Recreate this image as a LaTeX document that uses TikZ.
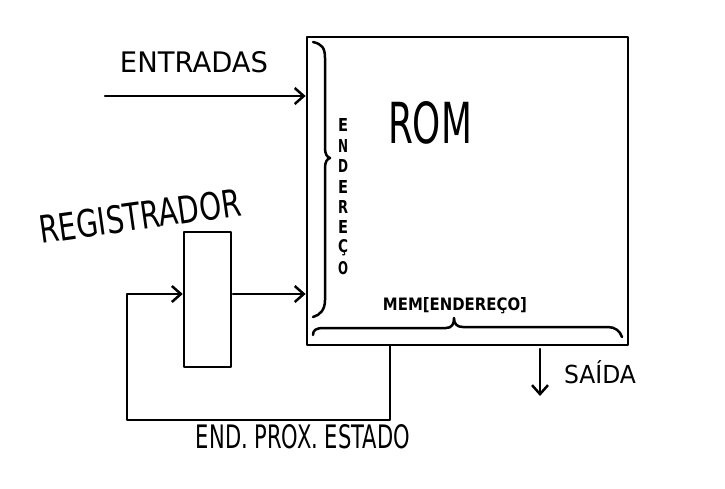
\documentclass[tikz,border=0pt]{standalone}
\usepackage{fontspec}
\setmainfont{DejaVu Sans}
\usetikzlibrary{arrows.meta}
\newcommand{\hw}[3]{\resizebox{#1}{#2}{#3}}
\begin{document}
\begin{tikzpicture}[x=1pt,y=-1pt, line width=2.5pt, line cap=round, line join=round,
  arr/.style={-{Straight Barb[length=9pt,width=16pt,line width=2.5pt]}},
  lbl/.style={inner sep=0pt}]
\useasboundingbox[fill=white] (0,0) rectangle (725,488);
% boxes
\node[draw, line width=2.8pt, minimum width=321pt, minimum height=308pt, inner sep=0pt] (rom) at (467.5,191) {};
\node[draw, minimum width=47pt, minimum height=135pt, inner sep=0pt] (reg) at (207.5,299.5) {};
% labels
\node[lbl] (entradas) at (194,62) {\hw{148pt}{21pt}{ENTRADAS}};
\node[lbl] (romlbl) at (430,123) {\hw{84pt}{42pt}{ROM}};
\node[lbl, rotate=8] (registrador) at (140,216) {\hw{203pt}{28pt}{REGISTRADOR}};
\node[lbl] (mem) at (455,306) {\hw{144pt}{13pt}{\bfseries MEM[ENDEREÇO]}};
\node[lbl] (prox) at (303,437) {\hw{214pt}{24pt}{END. PROX. ESTADO}};
\node[lbl] (saida) at (600,372) {\hw{72pt}{23pt}{SAÍDA}};
\foreach \l [count=\i] in {E,N,D,E,R,E,Ç,O}
  \node[lbl] (e\i) at (343,{105+\i*20.4}) {\hw{10pt}{13pt}{\bfseries\l}};
% braces
\draw (313,42) .. controls (322,44) and (325,48) .. (325,58) -- (325,148)
  .. controls (325,154) and (327,157) .. (330,158)
  .. controls (327,159) and (325,162) .. (325,168) -- (325,300)
  .. controls (325,310) and (320,315) .. (313,317);
\draw (313,335) .. controls (313,330) and (316,328) .. (324,328) -- (446,328)
  .. controls (452,328) and (454,324) .. (454,318)
  .. controls (454,324) and (457,327) .. (463,327) -- (608,327)
  .. controls (615,327) and (620,331) .. (622,337);
% connectors
\coordinate (ein) at (105,96);
\draw[arr] (ein) -- (ein -| rom.west);
\coordinate (rout) at (233,294);
\draw[arr] (rout) -- (rout -| rom.west);
\coordinate (fbtop) at (390,345);
\coordinate (fbcorner) at (127,420);
\draw[arr] (fbtop) |- (fbcorner) |- ([yshift=5.5pt]reg.west);
\coordinate (sout) at (540,349);
\draw[arr] (sout) -- ++(0,47);
\end{tikzpicture}
\end{document}
